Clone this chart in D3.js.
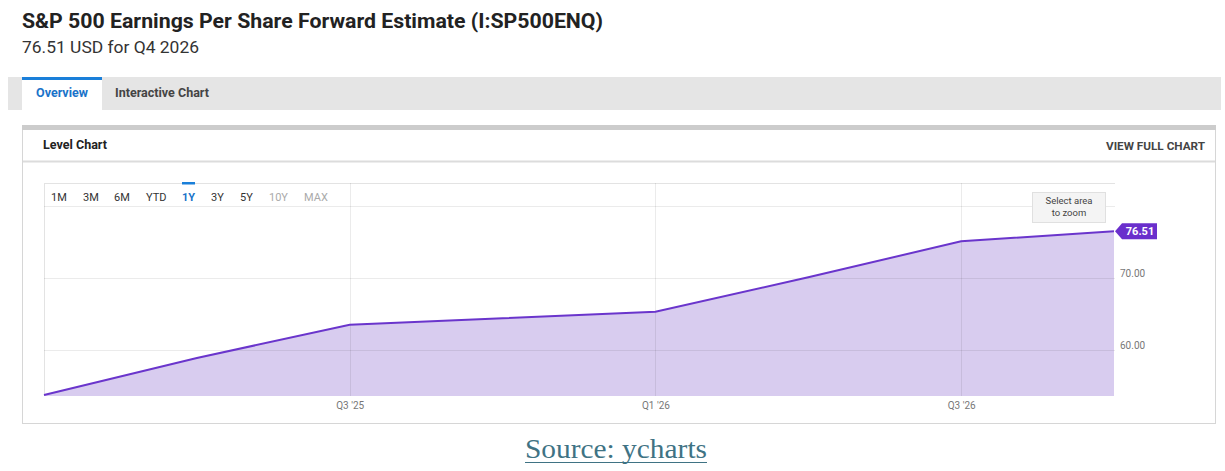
<!DOCTYPE html>
<html><head><meta charset="utf-8">
<script src="https://cdn.jsdelivr.net/npm/d3@7"></script>
<style>
html,body{margin:0;padding:0;background:#fff;}
svg{display:block;}
</style></head>
<body>
<svg id="c" width="1225" height="471"></svg>
<script>
const quarters = ["Q1 '25","Q2 '25","Q3 '25","Q4 '25","Q1 '26","Q2 '26","Q3 '26","Q4 '26"];
const epsValues = [53.75, 58.9, 63.5, 64.4, 65.3, 70.1, 75.1, 76.51];
const xTickLabels = ["Q3 '25","Q1 '26","Q3 '26"];
const yTickValues = [60, 70];
const yGridValues = [60, 70, 80];
const rangeButtons = ["1M","3M","6M","YTD","1Y","3Y","5Y","10Y","MAX"];

const svg = d3.select("#c");
const F = "Roboto, 'Liberation Sans', sans-serif";

// Header
svg.append("text").attr("x",22).attr("y",28).attr("font-family",F).attr("font-weight","bold")
  .attr("font-size",21).attr("fill","#222").attr("textLength",581).attr("lengthAdjust","spacingAndGlyphs")
  .text("S&P 500 Earnings Per Share Forward Estimate (I:SP500ENQ)");
svg.append("text").attr("x",22).attr("y",53).attr("font-family",F)
  .attr("font-size",17).attr("fill","#333").attr("textLength",177).attr("lengthAdjust","spacingAndGlyphs")
  .text("76.51 USD for Q4 2026");

// Tabs
svg.append("rect").attr("x",8).attr("y",77).attr("width",1213).attr("height",33).attr("fill","#e5e5e5");
svg.append("rect").attr("x",22).attr("y",77).attr("width",80).attr("height",33).attr("fill","#fff");
svg.append("rect").attr("x",22).attr("y",77).attr("width",80).attr("height",3).attr("fill","#1a7fd9");
svg.append("text").attr("x",36).attr("y",97).attr("font-family",F).attr("font-weight","bold")
  .attr("font-size",12.5).attr("fill","#1a73c9").attr("textLength",52).attr("lengthAdjust","spacingAndGlyphs").text("Overview");
svg.append("text").attr("x",115).attr("y",97).attr("font-family",F).attr("font-weight","bold")
  .attr("font-size",12.5).attr("fill","#444").attr("textLength",94).attr("lengthAdjust","spacingAndGlyphs").text("Interactive Chart");

// Panel
svg.append("rect").attr("x",22.5).attr("y",125.5).attr("width",1193).attr("height",298).attr("fill","#fff").attr("stroke","#d6d6d6");
svg.append("rect").attr("x",22).attr("y",125).attr("width",1194).attr("height",5).attr("fill","#cccccc");
svg.append("line").attr("x1",23).attr("x2",1215).attr("y1",161.5).attr("y2",161.5).attr("stroke","#dcdcdc").attr("stroke-width",2);
svg.append("text").attr("x",43).attr("y",149).attr("font-family",F).attr("font-weight","bold")
  .attr("font-size",12.5).attr("fill","#222").attr("textLength",64).attr("lengthAdjust","spacingAndGlyphs").text("Level Chart");
svg.append("text").attr("x",1205).attr("y",150).attr("text-anchor","end").attr("font-family",F).attr("font-weight","bold")
  .attr("font-size",11.5).attr("fill","#444").attr("textLength",99).attr("lengthAdjust","spacingAndGlyphs").text("VIEW FULL CHART");

// Scales
const x = d3.scaleLinear().domain([0, quarters.length-1]).range([44, 1114]);
const y = d3.scaleLinear().domain([60,70]).range([350,278]);
const plotTop = 183, plotBottom = 396, plotLeft = 44, plotRight = 1115;

const g = svg.append("g");
// frame
g.append("line").attr("x1",plotLeft).attr("x2",plotRight).attr("y1",plotTop+0.5).attr("y2",plotTop+0.5).attr("stroke","#e3e3e3");
g.append("line").attr("x1",plotLeft+0.5).attr("x2",plotLeft+0.5).attr("y1",plotTop).attr("y2",plotBottom).attr("stroke","#e3e3e3");

// area
const data = quarters.map((q,i)=>({i, v: epsValues[i]}));
g.append("path").datum(data)
  .attr("d", d3.area().x(d=>x(d.i)).y0(plotBottom).y1(d=>y(d.v)))
  .attr("fill","#d8ccef");

// grid
yGridValues.forEach(v=>{
  g.append("line").attr("x1",plotLeft).attr("x2",plotRight).attr("y1",Math.round(y(v))+0.5).attr("y2",Math.round(y(v))+0.5)
   .attr("stroke","#000").attr("stroke-opacity",0.08);
});
xTickLabels.forEach(lbl=>{
  const xi = x(quarters.indexOf(lbl));
  g.append("line").attr("x1",Math.round(xi)+0.5).attr("x2",Math.round(xi)+0.5).attr("y1",plotTop).attr("y2",plotBottom)
   .attr("stroke","#000").attr("stroke-opacity",0.08);
});
// line
g.append("path").datum(data)
  .attr("d", d3.line().x(d=>x(d.i)).y(d=>y(d.v)))
  .attr("fill","none").attr("stroke","#6a35cc").attr("stroke-width",2);

// Axes via d3
const xAxis = d3.axisBottom(d3.scalePoint().domain(quarters).range([x(0), x(quarters.length-1)]))
  .tickValues(xTickLabels).tickSize(0).tickPadding(0);
const xa = svg.append("g").attr("transform",`translate(0,${plotBottom+6})`).call(xAxis);
xa.select(".domain").remove();
xa.selectAll("text").attr("font-family",F).attr("font-size",10).attr("fill","#777").attr("dy","0.71em");

const yAxis = d3.axisRight(y).tickValues(yTickValues).tickFormat(d3.format(".2f")).tickSize(0).tickPadding(0);
const ya = svg.append("g").attr("transform",`translate(${plotRight+5},-5)`).call(yAxis);
ya.select(".domain").remove();
ya.selectAll("text").attr("font-family",F).attr("font-size",10).attr("fill","#777");

// Range buttons
const btnX = [51,83,114,146,182,211,240,269,304];
rangeButtons.forEach((b,i)=>{
  const col = b==="1Y" ? "#1a73c9" : (b==="10Y"||b==="MAX" ? "#aaa" : "#333");
  svg.append("text").attr("x",btnX[i]).attr("y",201).attr("font-family",F).attr("font-size",11)
    .attr("fill",col).attr("font-weight", b==="1Y"?"bold":"normal").text(b);
});
svg.append("rect").attr("x",182).attr("y",182).attr("width",13).attr("height",2.5).attr("fill","#1a7fd9");

// Select area to zoom
svg.append("rect").attr("x",1032.5).attr("y",192.5).attr("width",73).attr("height",30).attr("fill","#f4f4f4").attr("stroke","#e0e0e0");
svg.append("text").attr("x",1069).attr("y",204).attr("text-anchor","middle").attr("font-family",F).attr("font-size",9.5).attr("fill","#444").text("Select area");
svg.append("text").attr("x",1069).attr("y",216).attr("text-anchor","middle").attr("font-family",F).attr("font-size",9.5).attr("fill","#444").text("to zoom");

// Last value tag
const lx = x(quarters.length-1)+1, ly = y(epsValues[epsValues.length-1]);
svg.append("path").attr("d",`M${lx},${ly} L${lx+7},${ly-8} L${lx+42},${ly-8} L${lx+42},${ly+8} L${lx+7},${ly+8} Z`).attr("fill","#6a2fcc");
svg.append("text").attr("x",lx+25).attr("y",ly+4).attr("text-anchor","middle").attr("font-family",F).attr("font-weight","bold")
  .attr("font-size",11).attr("fill","#fff").text(d3.format(".2f")(epsValues[epsValues.length-1]));

// Source
svg.append("text").attr("x",525).attr("y",458).attr("font-family","'Liberation Serif', 'Times New Roman', serif")
  .attr("font-size",27).attr("fill","#3f7384").attr("textLength",182).attr("lengthAdjust","spacingAndGlyphs").text("Source: ycharts");
svg.append("line").attr("x1",525).attr("x2",707).attr("y1",462.5).attr("y2",462.5).attr("stroke","#3f7384").attr("stroke-width",1.2);
</script>
</body></html>
